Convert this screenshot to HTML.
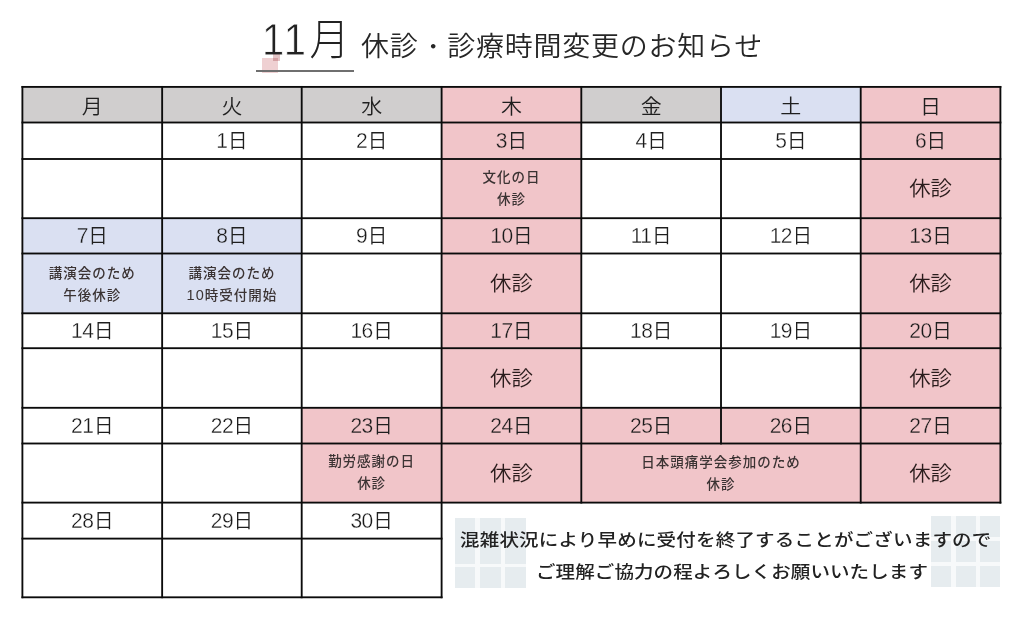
<!DOCTYPE html>
<html lang="ja">
<head>
<meta charset="utf-8">
<title>11月 休診・診療時間変更のお知らせ</title>
<style>
html,body{margin:0;padding:0;background:#fff;}
body{width:1024px;height:620px;position:relative;overflow:hidden;font-family:"Liberation Sans","Noto Sans CJK JP",sans-serif;color:#333;}
.bg,.ln,.t,.tile,.abs{position:absolute;}
.grid{position:absolute;left:0;top:0;}
.tilebg{position:absolute;background:#f7f9fa;}
.t{display:flex;align-items:center;justify-content:center;text-align:center;white-space:nowrap;}
.h{font-size:21px;font-weight:350;color:#1f1f1f;}
.h span{display:inline-block;position:relative;top:0px;transform:scaleY(0.98);}
.d{font-weight:350;color:#1f1f1f;}
.d span{display:inline-block;position:relative;top:-1.0px;}
.d b{display:inline-block;font-weight:400;font-size:21px;transform:scaleY(1.08);transform-origin:50% 78%;color:#1a1a1a;letter-spacing:-0.5px;}
.d b{-webkit-text-stroke:0.3px #fff;}
.pk b{-webkit-text-stroke-color:#f1c5c9;}
.bl b{-webkit-text-stroke-color:#dae0f2;}
.d i{display:inline-block;font-style:normal;font-size:19.5px;transform:scaleY(1.045);transform-origin:50% 78%;margin-left:0.5px;}
.b{font-size:21.4px;font-weight:350;color:#2a1c1c;}
.b span{display:inline-block;position:relative;top:-1.8px;transform:scaleY(0.965);}
.s{font-size:13.5px;font-weight:500;line-height:22px;letter-spacing:1px;color:#3b3333;}
.s span{position:relative;left:0px;top:0px;}
.s b{font-weight:400;font-size:14.5px;line-height:1;}
.title1{position:absolute;left:262px;top:15px;font-size:40px;font-weight:300;line-height:52px;color:#222;white-space:nowrap;transform:scaleY(1.09);transform-origin:50% 75%;}
.title1 i{font-style:normal;letter-spacing:2.5px;margin-right:1px;-webkit-text-stroke:0.7px #fff;}
.title2 .dot{display:inline-block;transform:scale(0.8);}
.title2{position:absolute;left:361px;top:28.3px;font-size:28px;font-weight:350;line-height:38px;color:#262626;transform:scaleY(0.97);white-space:nowrap;letter-spacing:0.75px;}
.ul{position:absolute;left:256px;top:70.3px;width:98px;height:1.6px;background:#6f6f6f;}
.sq{position:absolute;left:262px;top:58px;width:16px;height:15px;background:#efd0d2;mix-blend-mode:multiply;}
.sq2{position:absolute;left:273px;top:54px;width:7px;height:7px;background:#e3c4c6;mix-blend-mode:multiply;}
.n{position:absolute;font-size:19.5px;font-weight:500;color:#222;white-space:nowrap;line-height:30px;letter-spacing:0.2px;transform:scaleY(0.87);transform-origin:0 55%;}
.n1{left:460px;top:524.5px;}
.n2{left:536px;top:556.8px;letter-spacing:0.1px;}
</style>
</head>
<body>
<div class="title1"><i>11</i>月</div>
<div class="sq"></div><div class="sq2"></div>
<div class="title2">休診<span class="dot">・</span>診療時間変更のお知らせ</div>
<div class="ul"></div>
<div class="tilebg" style="left:454.6px;top:518px;width:71.3px;height:70.4px"></div>
<div class="tilebg" style="left:931.2px;top:515.8px;width:69.2px;height:71.5px"></div>
<div class="bg" style="left:22.40px;top:86.90px;width:139.75px;height:35.60px;background:#d0cece"></div>
<div class="bg" style="left:162.15px;top:86.90px;width:139.55px;height:35.60px;background:#d0cece"></div>
<div class="bg" style="left:301.70px;top:86.90px;width:139.90px;height:35.60px;background:#d0cece"></div>
<div class="bg" style="left:441.60px;top:86.90px;width:139.70px;height:35.60px;background:#f1c5c9"></div>
<div class="bg" style="left:581.30px;top:86.90px;width:139.70px;height:35.60px;background:#d0cece"></div>
<div class="bg" style="left:721.00px;top:86.90px;width:139.70px;height:35.60px;background:#dae0f2"></div>
<div class="bg" style="left:860.70px;top:86.90px;width:139.70px;height:35.60px;background:#f1c5c9"></div>
<div class="bg" style="left:441.60px;top:122.50px;width:139.70px;height:95.70px;background:#f1c5c9"></div>
<div class="bg" style="left:860.70px;top:122.50px;width:139.70px;height:95.70px;background:#f1c5c9"></div>
<div class="bg" style="left:22.40px;top:218.20px;width:139.75px;height:95.10px;background:#dae0f2"></div>
<div class="bg" style="left:162.15px;top:218.20px;width:139.55px;height:95.10px;background:#dae0f2"></div>
<div class="bg" style="left:441.60px;top:218.20px;width:139.70px;height:95.10px;background:#f1c5c9"></div>
<div class="bg" style="left:860.70px;top:218.20px;width:139.70px;height:95.10px;background:#f1c5c9"></div>
<div class="bg" style="left:441.60px;top:313.30px;width:139.70px;height:94.50px;background:#f1c5c9"></div>
<div class="bg" style="left:860.70px;top:313.30px;width:139.70px;height:94.50px;background:#f1c5c9"></div>
<div class="bg" style="left:301.70px;top:407.80px;width:139.90px;height:94.80px;background:#f1c5c9"></div>
<div class="bg" style="left:441.60px;top:407.80px;width:139.70px;height:94.80px;background:#f1c5c9"></div>
<div class="bg" style="left:581.30px;top:407.80px;width:139.70px;height:94.80px;background:#f1c5c9"></div>
<div class="bg" style="left:721.00px;top:407.80px;width:139.70px;height:94.80px;background:#f1c5c9"></div>
<div class="bg" style="left:860.70px;top:407.80px;width:139.70px;height:94.80px;background:#f1c5c9"></div>
<div class="t h" style="left:22.40px;top:86.90px;width:139.75px;height:35.60px"><span>月</span></div>
<div class="t h" style="left:162.15px;top:86.90px;width:139.55px;height:35.60px"><span>火</span></div>
<div class="t h" style="left:301.70px;top:86.90px;width:139.90px;height:35.60px"><span>水</span></div>
<div class="t h" style="left:441.60px;top:86.90px;width:139.70px;height:35.60px"><span>木</span></div>
<div class="t h" style="left:581.30px;top:86.90px;width:139.70px;height:35.60px"><span>金</span></div>
<div class="t h" style="left:721.00px;top:86.90px;width:139.70px;height:35.60px"><span>土</span></div>
<div class="t h" style="left:860.70px;top:86.90px;width:139.70px;height:35.60px"><span>日</span></div>
<div class="t d" style="left:162.15px;top:122.50px;width:139.55px;height:36.50px"><span><b>1</b><i>日</i></span></div>
<div class="t d" style="left:301.70px;top:122.50px;width:139.90px;height:36.50px"><span><b>2</b><i>日</i></span></div>
<div class="t d pk" style="left:441.60px;top:122.50px;width:139.70px;height:36.50px"><span><b>3</b><i>日</i></span></div>
<div class="t d" style="left:581.30px;top:122.50px;width:139.70px;height:36.50px"><span><b>4</b><i>日</i></span></div>
<div class="t d" style="left:721.00px;top:122.50px;width:139.70px;height:36.50px"><span><b>5</b><i>日</i></span></div>
<div class="t d pk" style="left:860.70px;top:122.50px;width:139.70px;height:36.50px"><span><b>6</b><i>日</i></span></div>
<div class="t d bl" style="left:22.40px;top:218.20px;width:139.75px;height:35.30px"><span><b>7</b><i>日</i></span></div>
<div class="t d bl" style="left:162.15px;top:218.20px;width:139.55px;height:35.30px"><span><b>8</b><i>日</i></span></div>
<div class="t d" style="left:301.70px;top:218.20px;width:139.90px;height:35.30px"><span><b>9</b><i>日</i></span></div>
<div class="t d pk" style="left:441.60px;top:218.20px;width:139.70px;height:35.30px"><span><b>10</b><i>日</i></span></div>
<div class="t d" style="left:581.30px;top:218.20px;width:139.70px;height:35.30px"><span><b>11</b><i>日</i></span></div>
<div class="t d" style="left:721.00px;top:218.20px;width:139.70px;height:35.30px"><span><b>12</b><i>日</i></span></div>
<div class="t d pk" style="left:860.70px;top:218.20px;width:139.70px;height:35.30px"><span><b>13</b><i>日</i></span></div>
<div class="t d" style="left:22.40px;top:313.30px;width:139.75px;height:34.90px"><span><b>14</b><i>日</i></span></div>
<div class="t d" style="left:162.15px;top:313.30px;width:139.55px;height:34.90px"><span><b>15</b><i>日</i></span></div>
<div class="t d" style="left:301.70px;top:313.30px;width:139.90px;height:34.90px"><span><b>16</b><i>日</i></span></div>
<div class="t d pk" style="left:441.60px;top:313.30px;width:139.70px;height:34.90px"><span><b>17</b><i>日</i></span></div>
<div class="t d" style="left:581.30px;top:313.30px;width:139.70px;height:34.90px"><span><b>18</b><i>日</i></span></div>
<div class="t d" style="left:721.00px;top:313.30px;width:139.70px;height:34.90px"><span><b>19</b><i>日</i></span></div>
<div class="t d pk" style="left:860.70px;top:313.30px;width:139.70px;height:34.90px"><span><b>20</b><i>日</i></span></div>
<div class="t d" style="left:22.40px;top:407.80px;width:139.75px;height:35.70px"><span><b>21</b><i>日</i></span></div>
<div class="t d" style="left:162.15px;top:407.80px;width:139.55px;height:35.70px"><span><b>22</b><i>日</i></span></div>
<div class="t d pk" style="left:301.70px;top:407.80px;width:139.90px;height:35.70px"><span><b>23</b><i>日</i></span></div>
<div class="t d pk" style="left:441.60px;top:407.80px;width:139.70px;height:35.70px"><span><b>24</b><i>日</i></span></div>
<div class="t d pk" style="left:581.30px;top:407.80px;width:139.70px;height:35.70px"><span><b>25</b><i>日</i></span></div>
<div class="t d pk" style="left:721.00px;top:407.80px;width:139.70px;height:35.70px"><span><b>26</b><i>日</i></span></div>
<div class="t d pk" style="left:860.70px;top:407.80px;width:139.70px;height:35.70px"><span><b>27</b><i>日</i></span></div>
<div class="t d" style="left:22.40px;top:502.60px;width:139.75px;height:36.00px"><span><b>28</b><i>日</i></span></div>
<div class="t d" style="left:162.15px;top:502.60px;width:139.55px;height:36.00px"><span><b>29</b><i>日</i></span></div>
<div class="t d" style="left:301.70px;top:502.60px;width:139.90px;height:36.00px"><span><b>30</b><i>日</i></span></div>
<div class="t s" style="left:441.60px;top:159.00px;width:139.70px;height:59.20px"><span>文化の日<br>休診</span></div>
<div class="t b" style="left:860.70px;top:159.00px;width:139.70px;height:59.20px"><span>休診</span></div>
<div class="t s" style="left:22.40px;top:254.80px;width:139.75px;height:59.80px"><span>講演会のため<br>午後休診</span></div>
<div class="t s" style="left:162.15px;top:254.80px;width:139.55px;height:59.80px"><span>講演会のため<br><b>10</b>時受付開始</span></div>
<div class="t b" style="left:441.60px;top:253.50px;width:139.70px;height:59.80px"><span>休診</span></div>
<div class="t b" style="left:860.70px;top:253.50px;width:139.70px;height:59.80px"><span>休診</span></div>
<div class="t b" style="left:441.60px;top:348.20px;width:139.70px;height:59.60px"><span>休診</span></div>
<div class="t b" style="left:860.70px;top:348.20px;width:139.70px;height:59.60px"><span>休診</span></div>
<div class="t s" style="left:301.70px;top:443.50px;width:139.90px;height:59.10px"><span>勤労感謝の日<br>休診</span></div>
<div class="t b" style="left:441.60px;top:443.50px;width:139.70px;height:59.10px"><span>休診</span></div>
<div class="t s" style="left:581.30px;top:444.30px;width:279.40px;height:59.10px"><span>日本頭痛学会参加のため<br>休診</span></div>
<div class="t b" style="left:860.70px;top:443.50px;width:139.70px;height:59.10px"><span>休診</span></div>
<div class="tile" style="left:454.60px;top:518.00px;width:20.90px;height:45.80px;background:#e6ecef"></div>
<div class="tile" style="left:454.60px;top:567.30px;width:20.90px;height:21.10px;background:#e6ecef"></div>
<div class="tile" style="left:479.80px;top:518.00px;width:20.90px;height:45.80px;background:#e6ecef"></div>
<div class="tile" style="left:479.80px;top:567.30px;width:20.90px;height:21.10px;background:#e6ecef"></div>
<div class="tile" style="left:505.00px;top:518.00px;width:20.90px;height:45.80px;background:#e6ecef"></div>
<div class="tile" style="left:505.00px;top:567.30px;width:20.90px;height:21.10px;background:#e6ecef"></div>
<div class="tile" style="left:931.20px;top:515.80px;width:20.30px;height:21.30px;background:#e6ecef"></div>
<div class="tile" style="left:955.65px;top:515.80px;width:20.30px;height:21.30px;background:#e6ecef"></div>
<div class="tile" style="left:980.10px;top:515.80px;width:20.30px;height:21.30px;background:#e6ecef"></div>
<div class="tile" style="left:931.20px;top:540.90px;width:20.30px;height:21.30px;background:#e6ecef"></div>
<div class="tile" style="left:955.65px;top:540.90px;width:20.30px;height:21.30px;background:#e6ecef"></div>
<div class="tile" style="left:980.10px;top:540.90px;width:20.30px;height:21.30px;background:#e6ecef"></div>
<div class="tile" style="left:931.20px;top:566.00px;width:20.30px;height:21.30px;background:#e6ecef"></div>
<div class="tile" style="left:955.65px;top:566.00px;width:20.30px;height:21.30px;background:#e6ecef"></div>
<div class="tile" style="left:980.10px;top:566.00px;width:20.30px;height:21.30px;background:#e6ecef"></div>
<svg class="grid" width="1024" height="620" viewBox="0 0 1024 620" fill="#0b0b0b"><rect x="21.47" y="85.98" width="979.85" height="1.85"/><rect x="21.47" y="121.58" width="979.85" height="1.85"/><rect x="21.47" y="158.07" width="979.85" height="1.85"/><rect x="21.47" y="217.27" width="979.85" height="1.85"/><rect x="21.47" y="252.57" width="979.85" height="1.85"/><rect x="21.47" y="312.38" width="979.85" height="1.85"/><rect x="21.47" y="347.27" width="979.85" height="1.85"/><rect x="21.47" y="406.88" width="979.85" height="1.85"/><rect x="21.47" y="442.57" width="979.85" height="1.85"/><rect x="21.47" y="501.68" width="979.85" height="1.85"/><rect x="21.47" y="537.68" width="421.05" height="1.85"/><rect x="21.47" y="596.38" width="421.05" height="1.85"/><rect x="21.47" y="85.98" width="1.85" height="512.25"/><rect x="161.22" y="85.98" width="1.85" height="512.25"/><rect x="300.77" y="85.98" width="1.85" height="512.25"/><rect x="440.68" y="85.98" width="1.85" height="512.25"/><rect x="580.38" y="85.98" width="1.85" height="417.55"/><rect x="720.08" y="85.98" width="1.85" height="358.45"/><rect x="859.78" y="85.98" width="1.85" height="417.55"/><rect x="999.48" y="85.98" width="1.85" height="417.55"/></svg>
<div class="n n1">混雑状況により早めに受付を終了することがございますので</div>
<div class="n n2">ご理解ご協力の程よろしくお願いいたします</div>
</body>
</html>
